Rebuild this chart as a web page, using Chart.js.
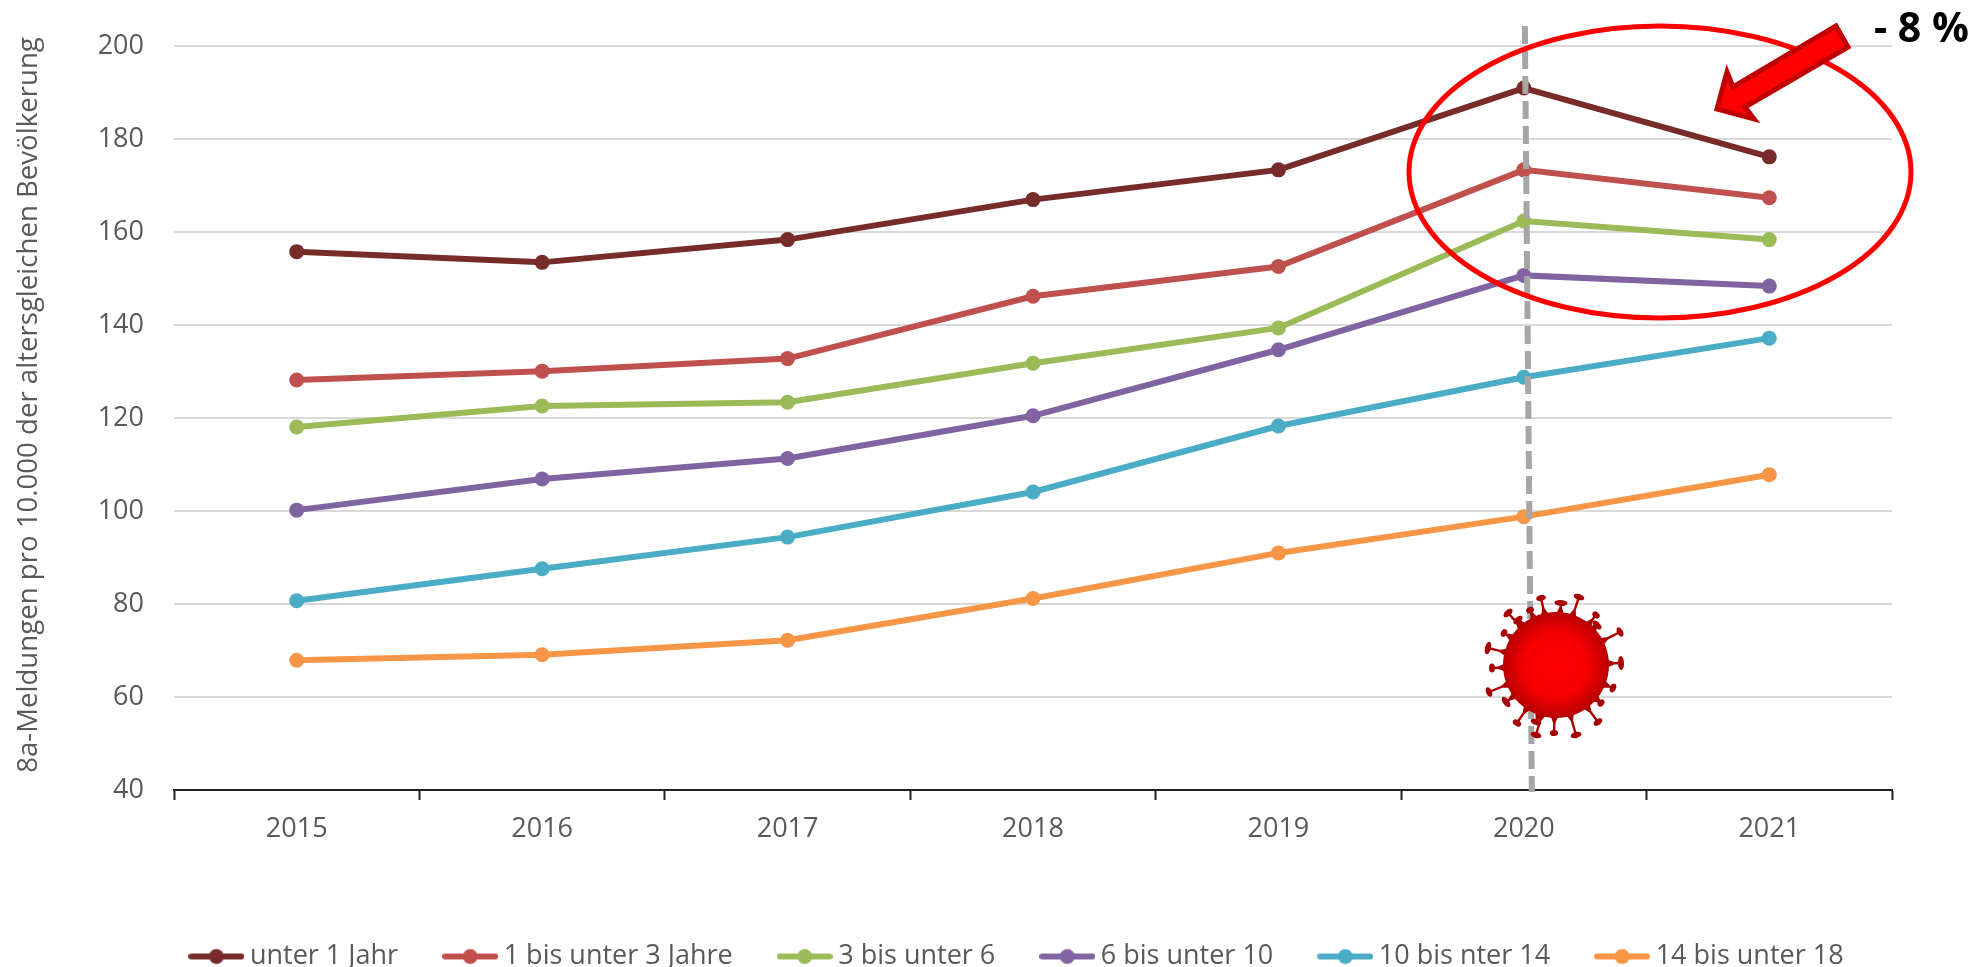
<!DOCTYPE html>
<html>
<head>
<meta charset="utf-8">
<script src="https://cdn.jsdelivr.net/npm/chart.js@4"></script>
<style>
  html, body { margin: 0; padding: 0; background: #fff; }
  canvas { display: block; }
</style>
</head>
<body>
<canvas id="chart" width="1980" height="967"></canvas>
<script>
const years = ['2015', '2016', '2017', '2018', '2019', '2020', '2021'];

const unter1 = [155.8, 153.5, 158.4, 167.0, 173.4, 191.0, 176.2];
const bis3 = [128.2, 130.1, 132.8, 146.2, 152.6, 173.4, 167.4];
const bis6 = [118.1, 122.6, 123.4, 131.8, 139.4, 162.4, 158.4];
const bis10 = [100.2, 106.9, 111.3, 120.5, 134.7, 150.7, 148.4];
const bis14 = [80.7, 87.6, 94.4, 104.1, 118.3, 128.8, 137.2];
const bis18 = [67.9, 69.1, 72.2, 81.2, 91.0, 98.8, 107.8];

const seriesNames = ['unter 1 Jahr', '1 bis unter 3 Jahre', '3 bis unter 6', '6 bis unter 10', '10 bis nter 14', '14 bis unter 18'];
const seriesColors = ['#772c2a', '#c0504d', '#9bbb59', '#8064a2', '#4bacc6', '#f79646'];
const seriesValues = [unter1, bis3, bis6, bis10, bis14, bis18];

const yTitle = '8a-Meldungen pro 10.000 der altersgleichen Bevölkerung';
const changeLabel = '- 8 %';
const fontName = '"Open Sans", sans-serif';

// line with a dot, same swatch as the legend in the picture
function legendSwatch(color) {
    const c = document.createElement('canvas');
    c.width = 56; c.height = 20;
    const g = c.getContext('2d');
    g.strokeStyle = color; g.fillStyle = color; g.lineWidth = 6; g.lineCap = 'round';
    g.beginPath(); g.moveTo(3, 10); g.lineTo(53, 10); g.stroke();
    g.beginPath(); g.arc(28, 10, 7.5, 0, Math.PI * 2); g.fill();
    return c;
}
const swatches = seriesColors.map(legendSwatch);

// spikes of the virus icon: offset of the tip from the centre, width of the cap
const spikes = [
    [23, -68, 9], [5, -62, 11], [-15, -67, 8], [-26, -55, 6], [-48, -52, 9], [-38, -45, 9],
    [-52, -32, 6], [-68, -17, 11], [-64, 3, 7], [-67, 27, 8], [-50, 37, 10], [-39, 58, 7],
    [-20, 70, 9], [-20, 57, 9], [-2, 68, 6], [20, 70, 9], [42, 57, 8], [45, 38, 6],
    [57, 23, 7], [65, -2, 12], [64, -33, 8], [41, -40, 9], [40, -50, 6]
];

function drawVirus(ctx, cx, cy, r) {
    ctx.fillStyle = '#a80000';
    ctx.strokeStyle = '#a80000';
    spikes.forEach(([dx, dy, w]) => {
        const a = Math.atan2(dy, dx);
        const nx = -Math.sin(a), ny = Math.cos(a);
        const tx = cx + dx, ty = cy + dy;
        const bx = cx + Math.cos(a) * (r - 2), by = cy + Math.sin(a) * (r - 2);
        ctx.beginPath();
        ctx.moveTo(bx + nx * 4, by + ny * 4);
        ctx.lineTo(cx + Math.cos(a) * (r + 5) + nx * 1.2, cy + Math.sin(a) * (r + 5) + ny * 1.2);
        ctx.lineTo(tx + nx * 1.2, ty + ny * 1.2);
        ctx.lineTo(tx - nx * 1.2, ty - ny * 1.2);
        ctx.lineTo(cx + Math.cos(a) * (r + 5) - nx * 1.2, cy + Math.sin(a) * (r + 5) - ny * 1.2);
        ctx.lineTo(bx - nx * 4, by - ny * 4);
        ctx.closePath();
        ctx.fill();
        ctx.beginPath();
        ctx.ellipse(tx, ty, 3, w / 2 + 1, a, 0, Math.PI * 2);
        ctx.fill();
    });
    const grad = ctx.createRadialGradient(cx, cy, 0, cx, cy, r);
    grad.addColorStop(0, '#ff0000');
    grad.addColorStop(0.6, '#f60000');
    grad.addColorStop(1, '#b80000');
    ctx.fillStyle = grad;
    ctx.beginPath();
    ctx.arc(cx, cy, r, 0, Math.PI * 2);
    ctx.fill();
}

const overlay = {
    id: 'overlay',
    afterLayout(chart) {
        // move the legend to where it sits in the picture
        chart.legend.left += 74;
        chart.legend.right += 74;
        chart.legend.top += 13;
        chart.legend.bottom += 13;
    },
    afterDraw(chart) {
        const ctx = chart.ctx;
        const x2020 = chart.scales.x.getPixelForValue(5);
        ctx.save();

        // axis title
        ctx.save();
        ctx.translate(29, 405);
        ctx.rotate(-Math.PI / 2);
        ctx.font = '27.6px ' + fontName;
        ctx.fillStyle = '#595959';
        ctx.textAlign = 'center';
        ctx.textBaseline = 'middle';
        ctx.fillText(yTitle, 0, 0);
        ctx.restore();

        // dashed marker at 2020
        ctx.strokeStyle = '#a6a6a6';
        ctx.lineWidth = 6;
        ctx.setLineDash([18, 7]);
        ctx.beginPath();
        ctx.moveTo(x2020 + 1, 26);
        ctx.lineTo(x2020 + 8, 792);
        ctx.stroke();
        ctx.setLineDash([]);

        // ellipse round the last two years
        ctx.strokeStyle = '#ff0000';
        ctx.lineWidth = 5;
        ctx.beginPath();
        ctx.ellipse(1660, 172, 251, 146, 0, 0, Math.PI * 2);
        ctx.stroke();

        // block arrow
        ctx.fillStyle = '#ff0000';
        ctx.strokeStyle = '#c00000';
        ctx.lineWidth = 5;
        ctx.lineJoin = 'miter';
        ctx.beginPath();
        ctx.moveTo(1717, 109);
        ctx.lineTo(1727, 72);
        ctx.lineTo(1733, 87);
        ctx.lineTo(1836, 26);
        ctx.lineTo(1848, 47);
        ctx.lineTo(1745, 107);
        ctx.lineTo(1754, 119);
        ctx.closePath();
        ctx.fill();
        ctx.stroke();

        // change label
        ctx.font = 'bold 41px ' + fontName;
        ctx.fillStyle = '#000';
        ctx.textAlign = 'left';
        ctx.textBaseline = 'alphabetic';
        ctx.fillText(changeLabel, 1874, 42);

        drawVirus(ctx, 1556, 665, 53);
        ctx.restore();
    }
};

new Chart(document.getElementById('chart'), {
    type: 'line',
    data: {
        labels: years,
        datasets: seriesNames.map((name, i) => ({
            label: name,
            data: seriesValues[i],
            borderColor: seriesColors[i],
            backgroundColor: seriesColors[i],
            borderWidth: 6,
            pointRadius: 7.5,
            pointBorderWidth: 0,
            tension: 0
        }))
    },
    options: {
        responsive: false,
        animation: false,
        layout: { padding: { top: 46, right: 88, left: 0, bottom: 0 } },
        plugins: {
            tooltip: { enabled: false },
            legend: {
                position: 'bottom',
                labels: {
                    usePointStyle: true,
                    pointStyleWidth: 40,
                    padding: 52,
                    color: '#595959',
                    font: { family: fontName, size: 27 },
                    generateLabels: chart => chart.data.datasets.map((ds, i) => ({
                        text: ds.label,
                        fontColor: '#595959',
                        pointStyle: swatches[i],
                        datasetIndex: i,
                        lineWidth: 0
                    }))
                }
            }
        },
        scales: {
            x: {
                offset: true,
                afterFit: s => { s.height = 88; },
                grid: { offset: true, drawOnChartArea: false, drawTicks: true, tickLength: 10, tickColor: '#222', tickWidth: 2 },
                border: { color: '#222', width: 2 },
                ticks: { color: '#595959', padding: 13, maxRotation: 0, font: { family: fontName, size: 27 } }
            },
            y: {
                min: 40,
                max: 200,
                afterFit: s => { s.width = 174; },
                grid: { color: '#d9d9d9', lineWidth: 2, drawTicks: false },
                border: { display: false },
                ticks: { stepSize: 20, color: '#595959', padding: 30, font: { family: fontName, size: 27 } }
            }
        }
    },
    plugins: [overlay]
});
</script>
</body>
</html>
